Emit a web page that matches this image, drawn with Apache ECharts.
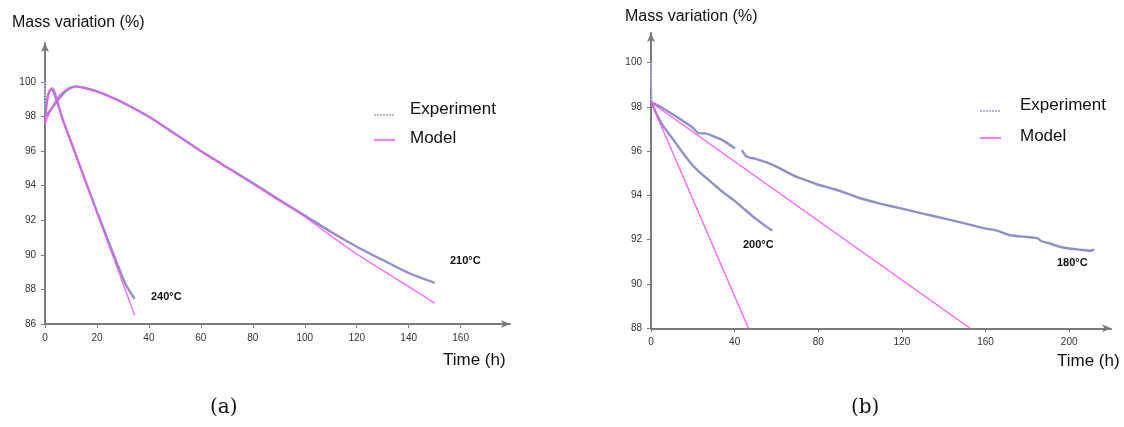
<!DOCTYPE html>
<html>
<head>
<meta charset="utf-8">
<script src="https://cdn.jsdelivr.net/npm/echarts@6/dist/echarts.min.js"></script>
<style>
  html, body { margin: 0; padding: 0; background: #fff; }
  #chart { width: 1124px; height: 427px; }
</style>
</head>
<body>
<div id="chart"></div>
<script>
// ---- Panel (a): 240 °C and 210 °C ----
const exp240T = [0, 0.15, 0.6, 1.2, 1.8, 2.4, 3.2, 4.2, 5.5, 7, 10, 15.4, 20, 25, 28, 31, 34.5];
const exp240M = [100, 98.15, 98.75, 99.25, 99.48, 99.55, 99.45, 99.05, 98.45, 97.75, 96.55, 94.35, 92.5, 90.55, 89.4, 88.3, 87.45];
const mod240T = [0, 0.5, 1, 1.5, 2, 2.8, 3.5, 4.5, 5.5, 7, 15.4, 25, 34.5];
const mod240M = [97.6, 98.35, 98.95, 99.35, 99.58, 99.66, 99.55, 99.1, 98.55, 97.75, 94.3, 90.4, 86.5];

const exp210T = [0, 0.15, 1, 2, 3, 4.5, 6, 8, 10, 12, 15, 20, 25, 30, 40, 50, 60, 70, 80, 90, 100, 110, 120, 130, 140, 150];
const exp210M = [100, 98.0, 98.15, 98.35, 98.55, 98.85, 99.15, 99.45, 99.65, 99.73, 99.66, 99.45, 99.15, 98.8, 97.98, 97.0, 96.0, 95.07, 94.15, 93.2, 92.28, 91.33, 90.47, 89.7, 88.95, 88.38];
const mod210T = [0, 1, 2, 3, 4, 5, 6, 8, 10, 12, 15, 20, 25, 30, 40, 50, 60, 70, 80, 90, 100, 110, 120, 130, 140, 150];
const mod210M = [97.6, 97.95, 98.3, 98.6, 98.88, 99.1, 99.3, 99.55, 99.7, 99.75, 99.65, 99.42, 99.15, 98.8, 98.0, 97.0, 95.98, 95.05, 94.1, 93.15, 92.2, 91.1, 90.05, 89.1, 88.16, 87.2];

// ---- Panel (b): 200 °C and 180 °C ----
const exp200T = [0, 0.3, 3, 6, 10, 15, 20, 25, 30, 35, 40, 45, 50, 55, 58];
const exp200M = [100, 98.2, 97.6, 97.1, 96.6, 95.95, 95.35, 94.9, 94.5, 94.1, 93.75, 93.35, 92.95, 92.6, 92.4];
const mod200T = [0, 46.6];
const mod200M = [98.2, 88];

const exp180T = [0, 0.3, 5, 10, 15, 20, 23, 26, 30, 35, 40.2, 41.5, 43.4, 45.8, 50, 55, 60, 65, 70, 75, 80, 87, 95, 100, 110, 120, 130, 140, 150, 160, 165, 172, 180, 185, 186.5, 190, 196, 200, 205, 210, 212];
const exp180M = [100, 98.2, 97.98, 97.68, 97.38, 97.05, 96.8, 96.8, 96.66, 96.45, 96.12, null, 96.04, 95.74, 95.65, 95.5, 95.3, 95.05, 94.82, 94.65, 94.48, 94.3, 94.05, 93.87, 93.62, 93.4, 93.18, 92.96, 92.74, 92.5, 92.42, 92.2, 92.12, 92.06, 91.94, 91.85, 91.67, 91.6, 91.55, 91.5, 91.55];
const mod180T = [0, 152.6];
const mod180M = [98.2, 88];

// ---- Axis ticks ----
const ticksYa = [86, 88, 90, 92, 94, 96, 98, 100];
const ticksXa = [0, 20, 40, 60, 80, 100, 120, 140, 160];
const ticksYb = [88, 90, 92, 94, 96, 98, 100];
const ticksXb = [0, 40, 80, 120, 160, 200];

// ---- Text ----
const yTitle = 'Mass variation (%)';
const xTitle = 'Time (h)';
const legendNames = ['Experiment', 'Model'];
const curveLabels = ['240°C', '210°C', '200°C', '180°C'];
const captions = ['(a)', '(b)'];

const EXP_COLOR = '#8383c6';
const MOD_COLOR = '#ff4dff';
const AXIS_COLOR = '#7a7a7a';
const SANS = '"Liberation Sans", Arial, sans-serif';

function pairs(t, m) { return t.map((v, i) => [v, m[i]]); }

function xAxis(gi, max, ticks) {
  return {
    type: 'value', gridIndex: gi, min: 0, max: max,
    splitLine: { show: false },
    axisLine: { onZero: false, lineStyle: { color: AXIS_COLOR, width: 2 }, symbol: ['none', 'arrow'], symbolSize: [6, 9] },
    axisTick: { customValues: ticks, length: 4, lineStyle: { color: AXIS_COLOR, width: 1 } },
    axisLabel: { customValues: ticks, fontSize: 10, color: '#333', fontFamily: SANS, margin: 9 }
  };
}
function yAxis(gi, min, max, ticks) {
  return {
    type: 'value', gridIndex: gi, min: min, max: max,
    splitLine: { show: false },
    axisLine: { onZero: false, lineStyle: { color: AXIS_COLOR, width: 2 }, symbol: ['none', 'arrow'], symbolSize: [6, 9] },
    axisTick: { customValues: ticks, length: 4, lineStyle: { color: AXIS_COLOR, width: 1 } },
    axisLabel: { customValues: ticks, fontSize: 10, color: '#333', fontFamily: SANS, margin: 9 }
  };
}
// Measured curve: the first sample (initial 100 %) drops at once, drawn as a faint dotted step.
function expSeries(name, gi, t, m) {
  const all = pairs(t, m);
  return [
    {
      name: name, type: 'line', xAxisIndex: gi, yAxisIndex: gi, data: all.slice(0, 2),
      showSymbol: false, z: 1, silent: true,
      lineStyle: { color: '#a9a9e0', width: 1.5, type: [2, 1] }
    },
    {
      name: name, type: 'line', xAxisIndex: gi, yAxisIndex: gi, data: all.slice(1),
      showSymbol: false, smooth: 0.2, connectNulls: false, z: 2,
      lineStyle: { color: EXP_COLOR, width: 2.4, opacity: 0.9 }
    }
  ];
}
function modSeries(name, gi, t, m) {
  return {
    name: name, type: 'line', xAxisIndex: gi, yAxisIndex: gi, data: pairs(t, m),
    showSymbol: false, smooth: 0.3, z: 3,
    lineStyle: { color: MOD_COLOR, width: 1.3, opacity: 0.9 }
  };
}
function legendBlock(x, y1, y2, tx) {
  return [
    { type: 'line', shape: { x1: x, y1: y1, x2: x + 21, y2: y1 }, style: { stroke: '#9c9cd8', lineWidth: 1.5, lineDash: [2, 1] } },
    { type: 'line', shape: { x1: x, y1: y2, x2: x + 21, y2: y2 }, style: { stroke: MOD_COLOR, lineWidth: 1.5 } },
    { type: 'text', left: tx, top: y1 - 14, style: { text: legendNames[0], fontSize: 17, fontFamily: SANS, fill: '#111' } },
    { type: 'text', left: tx, top: y2 - 10, style: { text: legendNames[1], fontSize: 17, fontFamily: SANS, fill: '#111' } }
  ];
}
function label(text, x, y) {
  return { type: 'text', left: x, top: y, style: { text: text, fontSize: 11, fontWeight: 'bold', fontFamily: SANS, fill: '#111' } };
}

const chart = echarts.init(document.getElementById('chart'), null, { renderer: 'canvas' });
chart.setOption({
  backgroundColor: '#fff',
  animation: false,
  grid: [
    { left: 45, top: 43, width: 465, height: 281 },
    { left: 651, top: 33, width: 460, height: 295.3 }
  ],
  xAxis: [xAxis(0, 179, ticksXa), xAxis(1, 220, ticksXb)],
  yAxis: [yAxis(0, 86, 102.25, ticksYa), yAxis(1, 88, 101.33, ticksYb)],
  series: [
    ...expSeries('Experiment', 0, exp240T, exp240M),
    ...expSeries('Experiment', 0, exp210T, exp210M),
    modSeries('Model', 0, mod240T, mod240M),
    modSeries('Model', 0, mod210T, mod210M),
    ...expSeries('Experiment', 1, exp200T, exp200M),
    ...expSeries('Experiment', 1, exp180T, exp180M),
    modSeries('Model', 1, mod200T, mod200M),
    modSeries('Model', 1, mod180T, mod180M)
  ],
  graphic: [
    { type: 'text', left: 12, top: 15, style: { text: yTitle, fontSize: 16, fontFamily: SANS, fill: '#111' } },
    { type: 'text', left: 625, top: 9, style: { text: yTitle, fontSize: 16, fontFamily: SANS, fill: '#111' } },
    { type: 'text', left: 443, top: 352, style: { text: xTitle, fontSize: 17, fontFamily: SANS, fill: '#111' } },
    { type: 'text', left: 1057, top: 353, style: { text: xTitle, fontSize: 17, fontFamily: SANS, fill: '#111' } },
    ...legendBlock(374, 115, 140, 410),
    ...legendBlock(980, 111, 138, 1020),
    label(curveLabels[0], 151, 291),
    label(curveLabels[1], 450, 255),
    label(curveLabels[2], 743, 239),
    label(curveLabels[3], 1057, 257),
    { type: 'text', left: 210, top: 398, style: { text: captions[0], fontSize: 20, fontFamily: '"DejaVu Serif", "Liberation Serif", serif', fill: '#111' } },
    { type: 'text', left: 851, top: 398, style: { text: captions[1], fontSize: 20, fontFamily: '"DejaVu Serif", "Liberation Serif", serif', fill: '#111' } }
  ]
});
</script>
</body>
</html>
